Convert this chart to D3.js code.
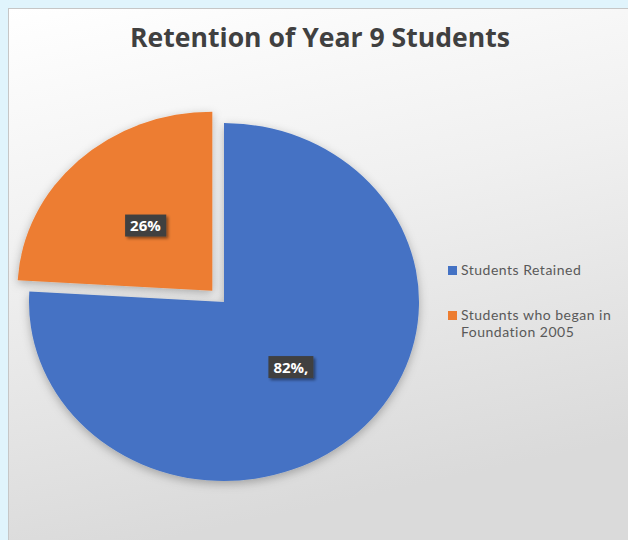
<!DOCTYPE html>
<html><head><meta charset="utf-8">
<script src="https://cdn.jsdelivr.net/npm/d3@7"></script>
<style>html,body{margin:0;padding:0;background:#fff;} svg{display:block}</style>
</head><body>
<script>
const title = "Retention of Year 9 Students";
const categories = ["Students Retained", "Students who began in Foundation 2005"];
const legendLines = [["Students Retained"], ["Students who began in", "Foundation 2005"]];
const values = [82, 26];
const valueLabels = ["82%,", "26%"];
const colors = ["#4472c4", "#ed7d31"];
const exploded = [0, 17];

const W = 628, H = 540;
const svg = d3.select("body").append("svg").attr("width", W).attr("height", H);
const defs = svg.append("defs");

const bg = defs.append("linearGradient").attr("id", "bg").attr("x1", 0).attr("y1", 0).attr("x2", 0.25).attr("y2", 1);
bg.append("stop").attr("offset", "0%").attr("stop-color", "#ffffff");
bg.append("stop").attr("offset", "45%").attr("stop-color", "#f0f0f0");
bg.append("stop").attr("offset", "100%").attr("stop-color", "#dadada");

const sh = defs.append("filter").attr("id", "sh").attr("x", "-20%").attr("y", "-20%").attr("width", "140%").attr("height", "140%");
sh.append("feDropShadow").attr("dx", 0).attr("dy", 3).attr("stdDeviation", 5)
  .attr("flood-color", "#000").attr("flood-opacity", 0.28);
const lsh = defs.append("filter").attr("id", "lsh").attr("x", "-30%").attr("y", "-30%").attr("width", "160%").attr("height", "160%");
lsh.append("feDropShadow").attr("dx", 2).attr("dy", 2).attr("stdDeviation", 1.5)
  .attr("flood-color", "#000").attr("flood-opacity", 0.45);

// page strip + chart area
svg.append("rect").attr("width", W).attr("height", H).attr("fill", "#e0f4fc");
svg.append("rect").attr("x", 8).attr("y", 8).attr("width", W - 8).attr("height", H - 8)
  .attr("fill", "url(#bg)");
svg.append("line").attr("x1", 8.5).attr("x2", 8.5).attr("y1", 8).attr("y2", H).attr("stroke", "#c6c6c6");
svg.append("line").attr("x1", 8).attr("x2", W).attr("y1", 8.5).attr("y2", 8.5).attr("stroke", "#c6c6c6");

// title
const tt = svg.append("text").attr("x", 320).attr("y", 47).attr("text-anchor", "middle")
  .attr("font-family", "'Open Sans', Lato, sans-serif").attr("font-weight", 700)
  .attr("font-size", 24).attr("fill", "#404040").text(title);
const tw = tt.node().getComputedTextLength();
tt.attr("font-size", 24 * 380 / tw);

// pie
const cx = 224, cy = 302, R = 195, sy = 179 / 195;
const pie = d3.pie().sort(null).value(d => d)(values);
const arc = d3.arc().innerRadius(0).outerRadius(R);
const g = svg.append("g").attr("transform", `translate(${cx},${cy}) scale(1,${sy})`);
g.selectAll("path").data(pie).join("path")
  .attr("d", arc)
  .attr("fill", (d, i) => colors[i])
  .attr("filter", "url(#sh)")
  .attr("transform", (d, i) => {
    const a = (d.startAngle + d.endAngle) / 2;
    return `translate(${exploded[i] * Math.sin(a)},${-exploded[i] * Math.cos(a)})`;
  });

// data labels
const lab = svg.append("g");
pie.forEach((d, i) => {
  const a = (d.startAngle + d.endAngle) / 2;
  const r = R * 0.5 + exploded[i];
  const x = cx + r * Math.sin(a);
  const y = cy - r * Math.cos(a) * sy;
  const lg = lab.append("g").attr("transform", `translate(${x},${y})`);
  const rect = lg.append("rect").attr("fill", "#404040").attr("filter", "url(#lsh)");
  const t = lg.append("text").attr("text-anchor", "middle").attr("dy", "0.36em")
    .attr("font-family", "'Open Sans', Lato, sans-serif").attr("font-weight", 700)
    .attr("font-size", 15).attr("fill", "#ffffff").text(valueLabels[i]);
  const bb = t.node().getBBox();
  rect.attr("x", bb.x - 5).attr("y", -11).attr("width", bb.width + 10).attr("height", 22);
});

// legend
const leg = svg.append("g").attr("font-family", "Lato, 'Open Sans', sans-serif")
  .attr("font-size", 14).attr("letter-spacing", 0.5).attr("fill", "#595959");
const legY = [275, 320];
legendLines.forEach((lines, i) => {
  leg.append("rect").attr("x", 448).attr("y", legY[i] - 9).attr("width", 9).attr("height", 9)
    .attr("fill", colors[i]);
  lines.forEach((ln, j) => {
    leg.append("text").attr("x", 461).attr("y", legY[i] + j * 17).text(ln);
  });
});
</script>
</body></html>
